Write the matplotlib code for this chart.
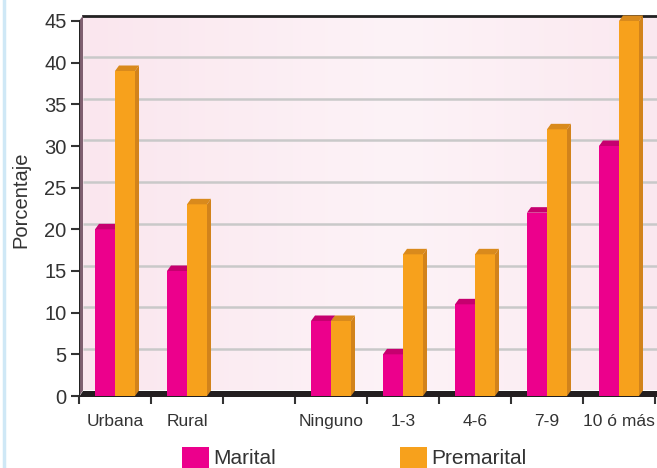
import numpy as np
import matplotlib.pyplot as plt
import matplotlib.patches as patch
from matplotlib.lines import Line2D
from matplotlib.colors import LinearSegmentedColormap

# data
categories = ['Urbana', 'Rural', '', 'Ninguno', '1-3', '4-6', '7-9', '10 ó más']
marital = [20, 15, np.nan, 9, 5, 11, 22, 30]
premarital = [39, 23, np.nan, 9, 17, 17, 32, 45]
yticks = [0, 5, 10, 15, 20, 25, 30, 35, 40, 45]
series_names = ['Marital', 'Premarital']

# colours
pink = '#ec008c'; pink_top = '#c6006f'; pink_side = '#b0005f'
orange = '#f7a11c'; orange_top = '#d98a1c'; orange_side = '#d2831b'
text_col = '#333333'

W, H = 657, 468
fig = plt.figure(figsize=(W/100, H/100), dpi=100)

# axes placed in pixel units
left_px, right_px, bottom_px, top_px = 79, 657, 396, 14
px_x = (655 - 79)/8          # pixels per category
px_y = (396 - 21)/45         # pixels per percent
ax = fig.add_axes([left_px/W, 1 - bottom_px/H, (right_px - left_px)/W, (bottom_px - top_px)/H])
xmin = -0.5
xmax = xmin + (right_px - left_px)/px_x
ax.set_xlim(xmin, xmax)
ax.set_ylim(0, (bottom_px - top_px)/px_y)
ax.set_facecolor('white')
for s in ax.spines.values():
    s.set_visible(False)

# 3d depth in data units
dx = 4/px_x
dy = 5.5/px_y
ymax = yticks[-1]

# back wall with soft gradient
grad = np.linspace(0, 1, 256)
grad = 1 - np.abs(grad - 0.55)
grad = np.vstack([grad, grad])
wall_cmap = LinearSegmentedColormap.from_list('wall', ['#fae6ee', '#fdf3f7'])
ax.imshow(grad, cmap=wall_cmap, aspect='auto', extent=[xmin+dx, xmax, dy, ymax+dy],
          zorder=0, interpolation='bicubic')

# grid lines on back wall
for v in yticks[1:-1]:
    ax.plot([xmin+dx, xmax], [v+dy, v+dy], color='#c9c9c9', lw=1.8, zorder=1, solid_capstyle='butt')
ax.plot([xmin+dx, xmax], [ymax+dy, ymax+dy], color='#222222', lw=2, zorder=1, clip_on=False)

# left wall and floor
ax.add_patch(patch.Polygon([(xmin, 0), (xmin+dx, dy), (xmin+dx, ymax+dy), (xmin, ymax)],
                           closed=True, facecolor='#7f5f70', edgecolor='none', zorder=2))
ax.plot([xmin, xmin], [0, ymax], color='#222222', lw=1.5, zorder=2)
ax.add_patch(patch.Polygon([(xmin, -0.15), (xmax, -0.15), (xmax, dy), (xmin+dx, dy)],
                           closed=True, facecolor='#231f20', edgecolor='none', zorder=2, clip_on=False))

# bars
w = 20/px_x
x = np.arange(len(categories))

def bars3d(xs, vals, front, top, side):
    ok = ~np.isnan(vals)
    ax.bar(xs[ok], vals[ok], w, align='edge', color=front, zorder=3)
    for xi, h in zip(xs[ok], vals[ok]):
        ax.add_patch(patch.Polygon([(xi, h), (xi+w, h), (xi+w+dx, h+dy), (xi+dx, h+dy)],
                                   closed=True, facecolor=top, edgecolor='none', zorder=3, clip_on=False))
        ax.add_patch(patch.Polygon([(xi+w, 0), (xi+w+dx, dy), (xi+w+dx, h+dy), (xi+w, h)],
                                   closed=True, facecolor=side, edgecolor='none', zorder=3, clip_on=False))

bars3d(x - w, np.array(marital, float), pink, pink_top, pink_side)
bars3d(x.astype(float), np.array(premarital, float), orange, orange_top, orange_side)

# y axis ticks
ax.set_yticks(yticks)
ax.set_yticklabels([str(v) for v in yticks], fontfamily='Liberation Sans', fontsize=14.5, color=text_col)
ax.tick_params(axis='y', direction='out', length=6, width=1.5, color='#333333', pad=3)

# x axis: ticks at boundaries, labels at centres
ax.set_xticks(np.arange(-0.5, len(categories)), [''] * (len(categories) + 1))
ax.tick_params(axis='x', which='major', direction='out', length=6, width=1.5, color='#333333')
ax.set_xticks(x, categories, minor=True)
ax.tick_params(axis='x', which='minor', length=0, pad=13, labelsize=12.5, labelcolor=text_col)
for lbl in ax.get_xticklabels(minor=True):
    lbl.set_fontfamily('Liberation Sans')

fig.text(21/W, 1 - 200/H, 'Porcentaje', rotation=90, ha='center', va='center',
         fontfamily='Liberation Sans', fontsize=14.5, color=text_col)

# legend
for name, col, x0 in zip(series_names, [pink, orange], [182, 400]):
    fig.add_artist(patch.Rectangle((x0/W, 0), 27/W, 21/H, transform=fig.transFigure,
                                   facecolor=col, edgecolor='none'))
    fig.text((x0 + 31)/W, 1 - 458/H, name, ha='left', va='center',
             fontfamily='Liberation Sans', fontsize=15, color=text_col)

# frame line on the left edge
fig.add_artist(Line2D([4/W, 4/W], [0, 1], transform=fig.transFigure, color='#cfe8f6', lw=2.5))

fig.savefig('out.png', dpi=100)
